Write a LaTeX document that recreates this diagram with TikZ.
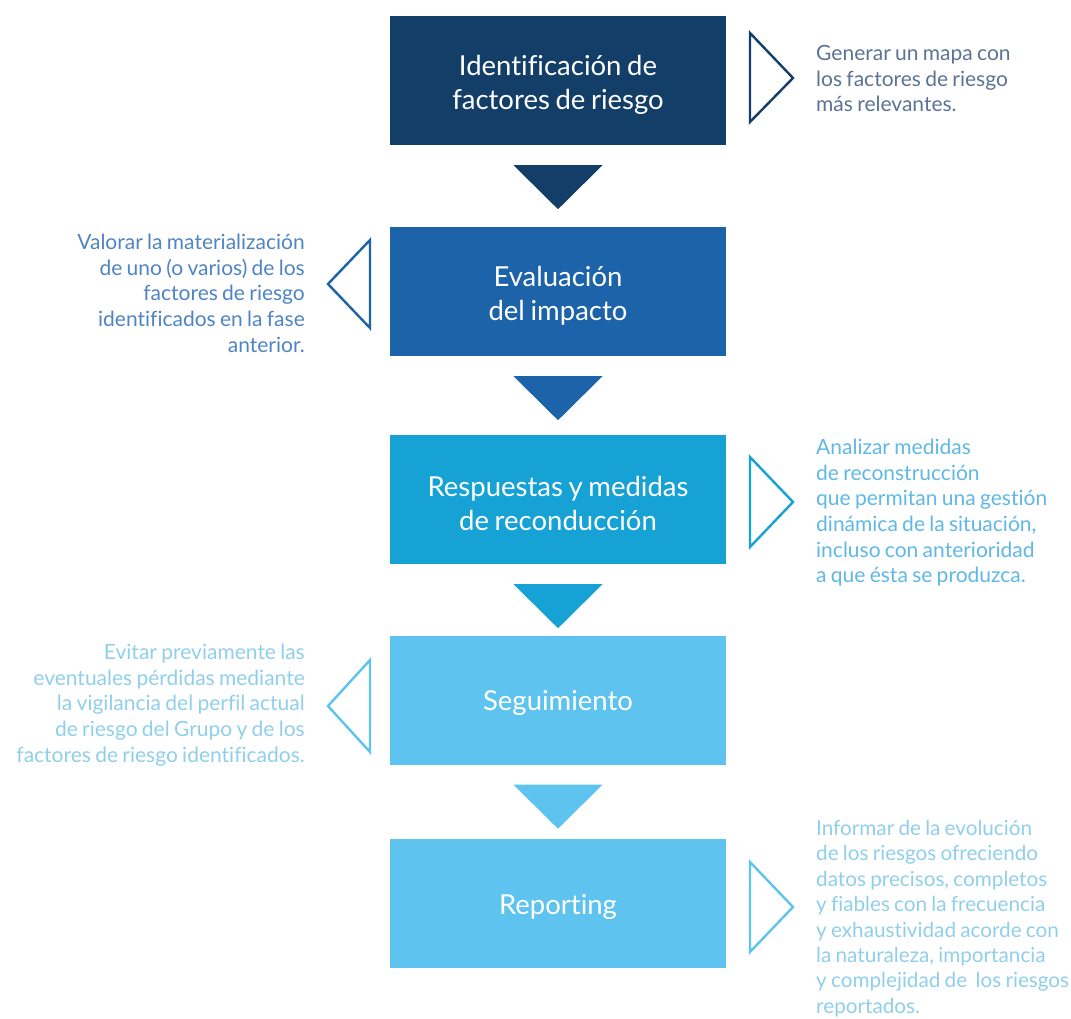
\documentclass[tikz,border=0pt]{standalone}
\usepackage{fontspec}
\setmainfont{Lato}[Ligatures=NoCommon,WordSpace=0.8]
\usetikzlibrary{calc}
\definecolor{cA}{HTML}{123E68}
\definecolor{cB}{HTML}{1C63A9}
\definecolor{cC}{HTML}{17A2D6}
\definecolor{cD}{HTML}{5EC4EF}
\definecolor{tA}{HTML}{5B7394}
\definecolor{tB}{HTML}{4F84C4}
\definecolor{tC}{HTML}{5FB8E5}
\definecolor{tD}{HTML}{90CFEB}
\begin{document}
\begin{tikzpicture}[x=1pt,y=-1pt,
  stage/.style={minimum width=336pt,minimum height=129pt,inner sep=0pt},
  stagetext/.style={inner sep=0pt,text=white,align=center,
    font=\fontsize{27.5}{34}\selectfont},
  note/.style={inner sep=0pt,font=\fontsize{21}{25.6}\selectfont},
  chev/.style={line width=2.4pt,line join=miter}]
\useasboundingbox (0,0) rectangle (1071,1018);

% process stages
\node[stage,fill=cA] (b1) at (558,80.5) {};
\node[stage,fill=cB] (b2) at (558,291.5) {};
\node[stage,fill=cC] (b3) at (558,499.5) {};
\node[stage,fill=cD] (b4) at (558,700) {};
\node[stage,fill=cD] (b5) at (558,903.5) {};
\node[stagetext] (l1) at ([yshift=-4pt]b1.center) {Identificación de\\factores de riesgo};
\node[stagetext] (l2) at ([yshift=-4pt]b2.center) {Evaluación\\del impacto};
\node[stagetext] (l3) at ([yshift=-4pt]b3.center) {Respuestas y medidas\\de reconducción};
\node[stagetext] (l4) at ([yshift=-3pt]b4.center) {Seguimiento};
\node[stagetext] (l5) at ([yshift=-3pt]b5.center) {Reporting};

% down-pointing connectors between stages
\foreach \a/\b/\c in {b1/b2/cA,b2/b3/cB,b3/b4/cC,b4/b5/cD}{
  \fill[\c] ($(\a.south)+(-44.5,20)$) -- ($(\a.south)+(44.5,20)$)
    -- ($(\a.south)+(0,64)$) -- cycle;
}

% open triangles pointing at the notes
\draw[chev,cA] (750,33) -- (793,78) -- (750,122) -- cycle;
\draw[chev,cB] (370,240) -- (328,284) -- (370,328) -- cycle;
\draw[chev,cC] (750,457) -- (793,502) -- (750,547) -- cycle;
\draw[chev,cD] (370,660) -- (328,706) -- (370,752) -- cycle;
\draw[chev,cD] (750,862) -- (793,907) -- (750,952) -- cycle;

% notes
\node[note,text=tA,align=left,anchor=north west] (n1) at (816,45)
  {Generar un mapa con\\los factores de riesgo\\más relevantes.};
\node[note,text=tB,align=right,anchor=north east] (n2) at (305,234)
  {Valorar la materialización\\de uno (o varios) de los\\factores de riesgo\\identificados en la fase\\anterior.};
\node[note,text=tC,align=left,anchor=north west] (n3) at (816,439)
  {Analizar medidas\\de reconstrucción\\que permitan una gestión\\dinámica de la situación,\\incluso con anterioridad\\a que ésta se produzca.};
\node[note,text=tD,align=right,anchor=north east] (n4) at (305,644)
  {Evitar previamente las\\eventuales pérdidas mediante\\la vigilancia del perfil actual\\de riesgo del Grupo y de los\\factores de riesgo identificados.};
\node[note,text=tD,align=left,anchor=north west,
  font=\fontsize{20.7}{25.4}\selectfont] (n5) at (816,820)
  {Informar de la evolución\\de los riesgos ofreciendo\\datos precisos, completos\\y fiables con la frecuencia\\y exhaustividad acorde con\\la naturaleza, importancia\\y complejidad de\ \ los riesgos\\reportados.};
\end{tikzpicture}
\end{document}
